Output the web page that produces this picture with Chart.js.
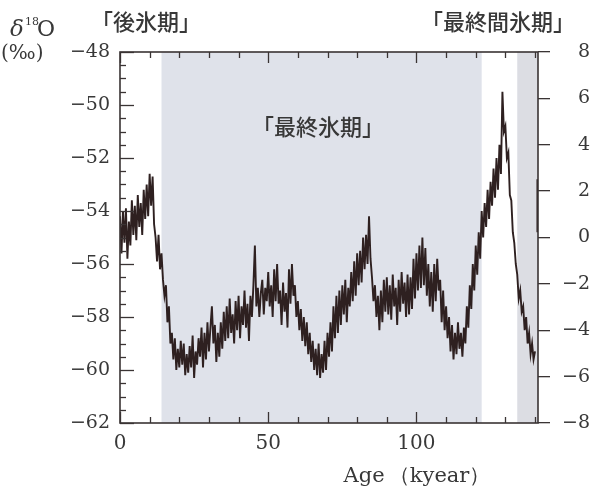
<!DOCTYPE html>
<html>
<head>
<meta charset="utf-8">
<script src="https://cdn.jsdelivr.net/npm/chart.js@4/dist/chart.umd.min.js"></script>
<style>
  html, body { margin: 0; padding: 0; background: #fff; }
  #wrap { width: 594px; height: 498px; }
</style>
</head>
<body>
<div id="wrap"><canvas id="chart"></canvas></div>
<script>
// δ18O record, one value every 0.5 kyear from 0 to 140 kyear
const AGE_STEP = 0.5;
const d18O = [
  -54.2, -55.6, -54.0, -55.2, -53.9, -55.8,   // 0-3
  -54.4, -55.3, -53.6, -54.9, -53.8, -55.1,   // 3-6
  -53.4, -54.6, -53.7, -54.9, -53.2, -54.3,   // 6-9
  -53.0, -54.2, -52.6, -53.8, -52.7, -54.5,   // 9-12
  -55.0, -55.9, -54.9, -56.2, -55.6, -56.6,   // 12-15
  -57.2, -56.8, -58.2, -57.6, -59.0, -58.6,   // 15-18
  -59.6, -58.8, -60.0, -59.2, -59.9, -58.9,   // 18-21
  -59.8, -59.0, -60.2, -59.4, -60.1, -59.1,   // 21-24
  -59.9, -58.7, -60.3, -59.3, -59.8, -58.8,   // 24-27
  -59.5, -58.4, -59.9, -58.6, -59.6, -58.2,   // 27-30
  -59.3, -58.4, -57.6, -59.0, -58.3, -59.7,   // 30-33
  -58.6, -59.5, -58.2, -59.2, -57.8, -58.9,   // 33-36
  -57.6, -58.8, -57.3, -58.6, -57.9, -59.0,   // 36-39
  -57.4, -58.5, -57.2, -58.8, -57.6, -58.3,   // 39-42
  -57.0, -58.4, -57.5, -58.9, -57.2, -58.0,   // 42-45
  -56.8, -55.3, -57.6, -56.9, -58.0, -57.1,   // 45-48
  -56.6, -57.9, -56.9, -57.4, -56.3, -57.6,   // 48-51
  -56.8, -58.0, -56.2, -57.4, -56.0, -57.5,   // 51-54
  -57.0, -58.3, -56.7, -57.8, -57.1, -58.4,   // 54-57
  -56.2, -57.5, -56.0, -57.2, -56.8, -58.0,   // 57-60
  -57.4, -58.5, -57.7, -58.9, -58.0, -59.1,   // 60-63
  -58.2, -59.4, -58.6, -59.7, -58.9, -60.0,   // 63-66
  -59.2, -60.2, -59.0, -60.3, -59.4, -60.1,   // 66-69
  -58.9, -60.0, -58.6, -59.5, -58.2, -59.3,   // 69-72
  -57.6, -58.8, -57.2, -58.6, -57.0, -58.3,   // 72-75
  -56.8, -57.9, -56.6, -58.2, -56.9, -57.6,   // 75-78
  -56.3, -57.4, -55.9, -57.2, -55.6, -56.8,   // 78-81
  -55.5, -56.7, -55.0, -56.2, -54.9, -56.0,   // 81-84
  -54.2, -55.8, -56.5, -57.4, -56.8, -58.0,   // 84-87
  -57.2, -58.5, -57.0, -58.2, -56.6, -57.8,   // 87-90
  -56.5, -57.9, -56.8, -58.1, -56.4, -57.6,   // 90-93
  -56.9, -58.3, -56.6, -57.8, -56.3, -57.5,   // 93-96
  -56.7, -58.0, -56.4, -57.9, -56.5, -57.7,   // 96-99
  -55.8, -57.3, -55.6, -57.0, -55.3, -56.9,   // 99-102
  -55.0, -56.8, -55.4, -57.2, -56.0, -57.6,   // 102-105
  -56.3, -57.8, -56.0, -57.4, -55.8, -57.0,   // 105-108
  -56.6, -58.2, -57.0, -58.5, -57.6, -58.8,   // 108-111
  -58.0, -59.3, -58.3, -59.6, -58.6, -59.4,   // 111-114
  -58.2, -59.2, -58.6, -59.5, -58.4, -59.0,   // 114-117
  -57.6, -58.4, -56.8, -57.7, -56.0, -57.0,   // 117-120
  -55.3, -56.4, -54.8, -55.8, -54.0, -55.0,   // 120-123
  -53.7, -54.6, -53.2, -54.3, -52.9, -53.8,   // 123-126
  -52.4, -53.5, -52.0, -53.2, -51.5, -52.6,   // 126-129
  -49.5, -51.0, -50.8, -52.0, -51.8, -53.4,   // 129-132
  -53.6, -54.8, -55.2, -56.0, -56.4, -57.3,   // 132-135
  -57.0, -57.8, -57.6, -58.5, -58.0, -59.0,   // 135-138
  -58.6, -59.4, -59.0, -59.6, -59.3           // 138-140
];

// short piece of the curve at the right edge of the frame
const edgeAges = [140.8, 140.8];
const edgeValues = [-52.8, -54.8];

// shaded periods (kyear)
const glacialBand = [14, 122];
const lateBand = [134, 141];

const xLabelTicks = [0, 50, 100];
const X_MIN = 0, X_MAX = 141;
const LEFT_MIN = -62, LEFT_MAX = -48;
const RIGHT_MIN = -8, RIGHT_MAX = 8;

const INK = "#2e2020";
const TEXT = "#383838";
const SERIF = '"DejaVu Serif", "Liberation Serif", serif';
const JP = '"Noto Sans CJK JP", "Noto Sans CJK SC", sans-serif';

function fmt(v) {
  return (v < 0 ? "\u2212" : "") + Math.abs(v);
}

const mainPoints = d18O.map((v, i) => ({ x: i * AGE_STEP, y: v }));
const edgePoints = edgeAges.map((a, i) => ({ x: a, y: edgeValues[i] }));

const decor = {
  id: "decor",
  beforeDatasetsDraw(chart) {
    const { ctx, chartArea: a, scales } = chart;
    const x = scales.x;
    ctx.save();
    ctx.fillStyle = "#dfe2ea";
    ctx.fillRect(x.getPixelForValue(glacialBand[0]), a.top,
      x.getPixelForValue(glacialBand[1]) - x.getPixelForValue(glacialBand[0]), a.bottom - a.top);
    ctx.fillStyle = "#dcdde3";
    ctx.fillRect(x.getPixelForValue(lateBand[0]), a.top,
      x.getPixelForValue(lateBand[1]) - x.getPixelForValue(lateBand[0]), a.bottom - a.top);
    ctx.restore();
  },
  afterDatasetsDraw(chart) {
    const { ctx, chartArea: a, scales } = chart;
    ctx.save();
    ctx.strokeStyle = "#3a3434";
    ctx.lineWidth = 1.3;

    // inward ticks on top and bottom
    scales.x.ticks.forEach(t => {
      const px = Math.round(scales.x.getPixelForValue(t.value)) + 0.5;
      const len = t.value % 50 === 0 ? 11 : 6;
      ctx.beginPath();
      ctx.moveTo(px, a.bottom); ctx.lineTo(px, a.bottom - len);
      ctx.moveTo(px, a.top); ctx.lineTo(px, a.top + len);
      ctx.stroke();
    });

    // inward ticks on the left axis
    scales.y.ticks.forEach(t => {
      const py = Math.round(scales.y.getPixelForValue(t.value)) + 0.5;
      const len = t.value % 2 === 0 ? 14 : 6;
      ctx.beginPath();
      ctx.moveTo(a.left, py); ctx.lineTo(a.left + len, py);
      ctx.stroke();
    });

    // frame
    ctx.lineWidth = 1.6;
    ctx.strokeRect(a.left, a.top, a.right - a.left, a.bottom - a.top);
    ctx.restore();
  },
  afterDraw(chart) {
    const { ctx } = chart;
    ctx.save();
    ctx.fillStyle = TEXT;
    ctx.textBaseline = "middle";
    ctx.textAlign = "center";

    ctx.font = "500 22px " + JP;
    ctx.fillText("「後氷期」", 146, 22);
    ctx.fillText("「最終間氷期」", 498, 22);
    ctx.fillText("「最終氷期」", 318, 127);

    ctx.font = "21px " + SERIF;
    ctx.fillText("Age\u2009（kyear）", 417, 477);

    // δ18O (‰)
    ctx.textAlign = "left";
    ctx.textBaseline = "alphabetic";
    ctx.font = "italic 23px " + SERIF;
    ctx.fillText("δ", 10, 36);
    ctx.font = "11px " + SERIF;
    ctx.fillText("18", 25, 25);
    ctx.font = "22px " + SERIF;
    ctx.fillText("O", 37, 36);
    ctx.font = "20px " + SERIF;
    ctx.fillText("(‰)", 1, 59);
    ctx.restore();
  }
};

new Chart(document.getElementById("chart"), {
  type: "line",
  data: {
    datasets: [
      {
        label: "δ18O",
        data: mainPoints,
        borderColor: INK,
        borderWidth: 1.9,
        pointRadius: 0,
        tension: 0,
        yAxisID: "y"
      },
      {
        label: "edge",
        data: edgePoints,
        borderColor: INK,
        borderWidth: 1.9,
        pointRadius: 0,
        yAxisID: "y"
      }
    ]
  },
  options: {
    responsive: true,
    maintainAspectRatio: false,
    animation: false,
    devicePixelRatio: 1,
    layout: { padding: { top: 52, left: 0, right: 4, bottom: 0 } },
    plugins: {
      legend: { display: false },
      tooltip: { enabled: false }
    },
    scales: {
      x: {
        type: "linear",
        position: "bottom",
        min: X_MIN,
        max: X_MAX,
        grid: { display: false, drawTicks: false },
        border: { display: false },
        ticks: {
          stepSize: 10,
          includeBounds: false,
          autoSkip: false,
          maxRotation: 0,
          padding: 9,
          color: TEXT,
          font: { family: SERIF, size: 20 },
          callback: v => xLabelTicks.includes(v) ? String(v) : ""
        },
        afterFit: s => { s.height = 75; }
      },
      y: {
        type: "linear",
        position: "left",
        min: LEFT_MIN,
        max: LEFT_MAX,
        grid: { display: false, drawTicks: false },
        border: { display: false },
        ticks: {
          stepSize: 0.5,
          autoSkip: false,
          padding: 10,
          color: TEXT,
          font: { family: SERIF, size: 19 },
          callback: v => v % 2 === 0 ? fmt(v) : ""
        },
        afterFit: s => { s.width = 120; }
      },
      y2: {
        type: "linear",
        position: "right",
        min: RIGHT_MIN,
        max: RIGHT_MAX,
        grid: { drawOnChartArea: false, drawTicks: true, tickLength: 12, color: "#3a3434", lineWidth: 1.3 },
        border: { display: false },
        ticks: {
          stepSize: 2,
          padding: 4,
          crossAlign: "far",
          color: TEXT,
          font: { family: SERIF, size: 19 },
          callback: v => fmt(v)
        },
        afterFit: s => { s.width = 52; }
      }
    }
  },
  plugins: [decor]
});
</script>
</body>
</html>
